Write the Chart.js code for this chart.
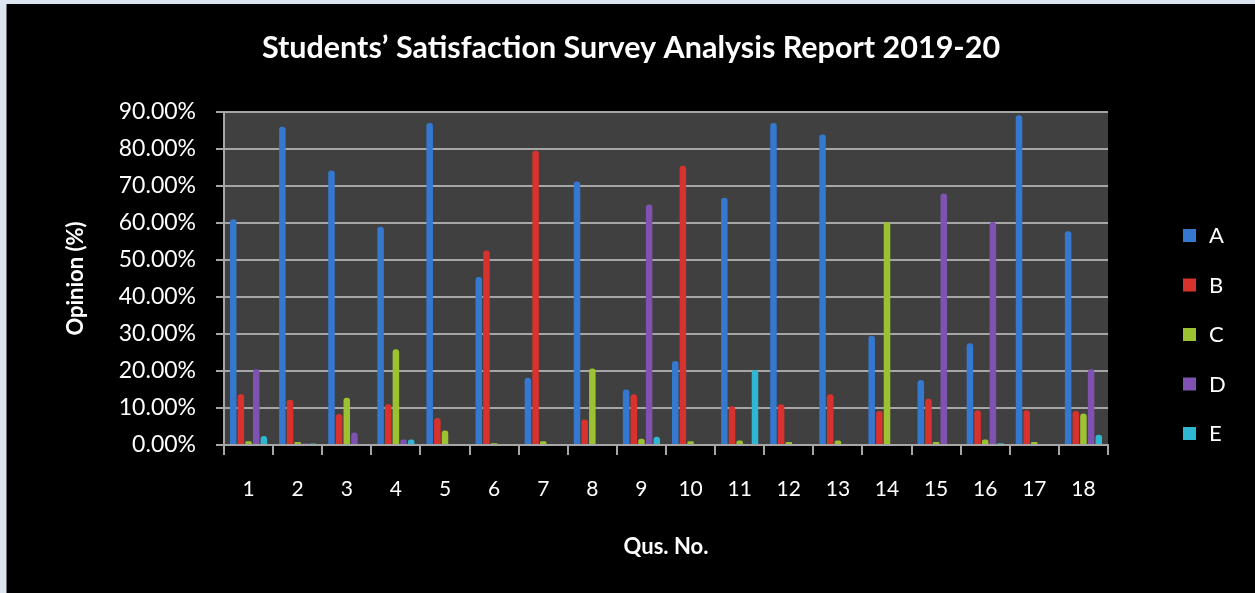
<!DOCTYPE html>
<html>
<head>
<meta charset="utf-8">
<script src="https://cdn.jsdelivr.net/npm/chart.js@4.4.0/dist/chart.umd.min.js"></script>
<style>
  body { margin: 0; background: #dce6f2; }
  #frame { position: absolute; left: 6px; top: 4px; width: 1249px; height: 589px; background: #000; border-left: 1px solid #6d7480; }
  canvas { display: block; }
</style>
</head>
<body>
<div id="frame"><canvas id="chart" width="1248" height="589"></canvas></div>
<script>
const questions = ['1', '2', '3', '4', '5', '6', '7', '8', '9', '10', '11', '12', '13', '14', '15', '16', '17', '18'];
const optA = [61, 86, 74.2, 59, 87, 45.4, 18.2, 71.2, 15, 22.7, 66.8, 87, 83.9, 29.5, 17.6, 27.5, 89.1, 57.8];
const optB = [13.7, 12.2, 8.4, 11, 7.3, 52.6, 79.5, 6.9, 13.7, 75.5, 10.5, 11, 13.7, 9.2, 12.5, 9.4, 9.4, 9.2];
const optC = [1, 0.8, 12.8, 25.9, 3.9, 0.5, 1, 20.7, 1.7, 1, 1.2, 0.8, 1.2, 60.3, 0.8, 1.5, 0.8, 8.5];
const optD = [20.5, 0.4, 3.4, 1.5, 0.3, 0.3, 0.3, 0.3, 65, 0.3, 0.3, 0.3, 0.3, 0.3, 68, 60.3, 0.3, 20.5];
const optE = [2.4, 0.4, 0.3, 1.5, 0.3, 0.3, 0.3, 0.3, 2.2, 0.3, 20.3, 0.3, 0.3, 0.3, 0.3, 0.5, 0.3, 2.8];
const yTicks = [0, 10, 20, 30, 40, 50, 60, 70, 80, 90];

const gridGray = '#a6a6a6';
const font = 'Lato';

// dark plot wall behind the bars
const plotBg = {
    id: 'plotBg',
    beforeDraw(chart) {
        const { ctx, chartArea: a } = chart;
        ctx.save();
        ctx.fillStyle = '#404040';
        ctx.fillRect(a.left, a.top, a.right - a.left, a.bottom - a.top);
        ctx.restore();
    }
};

// legend on the right, drawn by hand so the spacing matches
const sideLegend = {
    id: 'sideLegend',
    afterDraw(chart) {
        const { ctx, chartArea: a } = chart;
        ctx.save();
        ctx.font = '22px ' + font;
        ctx.textBaseline = 'middle';
        chart.data.datasets.forEach((ds, i) => {
            const y = 231 + i * 49.5;
            ctx.fillStyle = ds.backgroundColor;
            ctx.fillRect(a.right + 75, y - 6, 13, 13);
            ctx.fillStyle = '#ffffff';
            ctx.fillText(ds.label, a.right + 101, y + 1);
        });
        ctx.restore();
    }
};

const ctx = document.getElementById('chart').getContext('2d');
new Chart(ctx, {
    type: 'bar',
    data: {
        labels: questions,
        datasets: [
            { label: 'A', data: optA, backgroundColor: '#3578d0' },
            { label: 'B', data: optB, backgroundColor: '#d8322e' },
            { label: 'C', data: optC, backgroundColor: '#9cc232' },
            { label: 'D', data: optD, backgroundColor: '#7f52b2' },
            { label: 'E', data: optE, backgroundColor: '#2fb6d0' },
        ],
    },
    options: {
        responsive: false,
        animation: false,
        datasets: {
            bar: {
                categoryPercentage: 0.78,
                barPercentage: 0.85,
                borderRadius: { topLeft: 3, topRight: 3 },
                borderSkipped: 'bottom',
            },
        },
        plugins: {
            legend: { display: false },
            tooltip: { enabled: false },
            title: {
                display: true,
                text: 'Students’ Satisfaction Survey Analysis Report 2019-20',
                color: '#ffffff',
                font: { family: font, size: 30.5, weight: 'bold' },
                padding: { top: 26, bottom: 45.4 },
            },
        },
        scales: {
            x: {
                afterFit: (s) => { s.height = 148; },
                grid: {
                    offset: true,
                    drawOnChartArea: false,
                    color: gridGray,
                    lineWidth: 2,
                    tickLength: 10,
                },
                border: { color: gridGray, width: 2 },
                ticks: {
                    color: '#ffffff',
                    padding: 22,
                    font: { family: font, size: 21 },
                },
                title: {
                    display: true,
                    text: 'Qus. No.',
                    color: '#ffffff',
                    font: { family: font, size: 22, weight: 'bold' },
                    padding: { bottom: 33 },
                },
            },
            y: {
                min: 0,
                max: 90,
                afterFit: (s) => { s.width = 217; },
                afterBuildTicks: (s) => { s.ticks = yTicks.map(v => ({ value: v })); },
                grid: {
                    color: gridGray,
                    lineWidth: 2,
                    tickLength: 8,
                },
                border: { color: gridGray, width: 2 },
                ticks: {
                    color: '#ffffff',
                    padding: 20,
                    font: { family: font, size: 23 },
                    callback: (v) => v.toFixed(2) + '%',
                },
                title: {
                    display: true,
                    text: 'Opinion (%)',
                    color: '#ffffff',
                    font: { family: font, size: 22, weight: 'bold' },
                    padding: { top: 56 },
                },
            },
            // empty right-hand axis that only keeps room for the legend
            yRight: {
                position: 'right',
                min: 0,
                max: 90,
                afterFit: (s) => { s.width = 147; },
                grid: { drawOnChartArea: false, drawTicks: false },
                border: { display: false },
                ticks: { display: false },
            },
        },
    },
    plugins: [plotBg, sideLegend],
});
</script>
</body>
</html>
